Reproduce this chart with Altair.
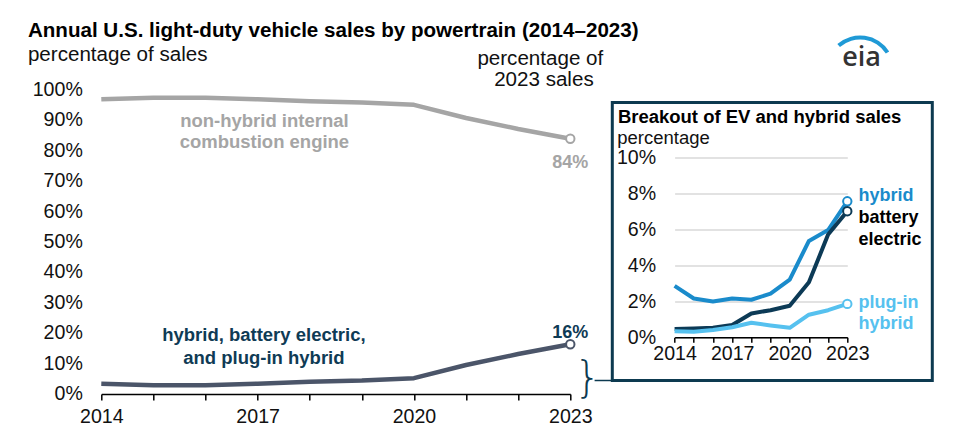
import altair as alt
import pandas as pd

FONT = "Liberation Sans"

# ---------------- data ----------------
years = [2014, 2015, 2016, 2017, 2018, 2019, 2020, 2021, 2022, 2023]

# main panel: percentage of sales
main_series = ["non-hybrid internal combustion engine",
               "hybrid, battery electric, and plug-in hybrid"]
ice_share = [96.6, 97.1, 97.1, 96.6, 96.0, 95.6, 94.8, 90.5, 86.9, 83.7]
ev_share = [3.4, 2.9, 2.9, 3.4, 4.0, 4.4, 5.2, 9.5, 13.1, 16.3]

# inset: breakout of EV and hybrid sales (percentage)
inset_series = ["hybrid", "battery electric", "plug-in hybrid"]
hybrid = [2.85, 2.15, 1.98, 2.15, 2.08, 2.42, 3.2, 5.35, 5.95, 7.55]
battery_electric = [0.45, 0.48, 0.52, 0.68, 1.32, 1.5, 1.75, 3.05, 5.7, 7.0]
plug_in_hybrid = [0.33, 0.3, 0.4, 0.55, 0.8, 0.65, 0.52, 1.25, 1.5, 1.85]

main_y_ticks = [0, 10, 20, 30, 40, 50, 60, 70, 80, 90, 100]
inset_y_ticks = [0, 2, 4, 6, 8, 10]
year_labels = [2014, 2017, 2020, 2023]

# ---------------- styles ----------------
ICE_C = "#a5a5a5"
EV_LINE = "#4b5569"
EV_TEXT = "#0f3b55"
BOX_C = "#0d3a50"
HYB_C = "#1a8bcb"
BEV_C = "#0c3a56"
PHEV_C = "#56c1ef"
GRID_C = "#d9d9d9"

main_df = pd.DataFrame({
    "year": years * 2,
    "series": [main_series[0]] * len(years) + [main_series[1]] * len(years),
    "value": ice_share + ev_share,
})
inset_df = pd.DataFrame({
    "year": years * 3,
    "series": sum([[s] * len(years) for s in inset_series], []),
    "value": hybrid + battery_electric + plug_in_hybrid,
})

label_expr = ("indexof([" + ",".join(str(v) for v in year_labels) +
              "], datum.value) >= 0 ? '' + datum.value : ''")


def note(text, x, y, size, color, weight="bold", align="center", font=FONT):
    return alt.Chart(alt.Data(values=[{}])).mark_text(
        text=text, fontSize=size, font=font, fontWeight=weight, color=color,
        align=align, baseline="middle"
    ).encode(x=alt.value(x), y=alt.value(y))


# ---------------- main panel ----------------
MX, MY = 100.7, 88.5  # absolute origin of the main plot area

x_main = alt.X("year:Q",
               scale=alt.Scale(domain=[2014, 2023], nice=False, zero=False),
               axis=alt.Axis(values=years, labelExpr=label_expr, title=None, grid=False,
                             domainColor="#000000", domainWidth=1.5,
                             tickColor="#000000", tickWidth=1.5, tickSize=6,
                             labelFontSize=19.6, labelColor="#111111", labelPadding=8,
                             labelFlush=False, labelOverlap=False))
y_main = alt.Y("value:Q",
               scale=alt.Scale(domain=[0, 100], nice=False, zero=False),
               axis=alt.Axis(values=main_y_ticks, labelExpr="datum.value + '%'", title=None,
                             grid=False, domain=False, ticks=False, tickSize=0,
                             labelPadding=19, labelFontSize=19.6, labelColor="#111111"))
main_scale = alt.Scale(domain=main_series, range=[ICE_C, EV_LINE])

main_base = alt.Chart(main_df)
main_lines = main_base.mark_line(strokeWidth=4.5, strokeJoin="round").encode(
    x=x_main, y=y_main, color=alt.Color("series:N", scale=main_scale, legend=None))
main_points = main_base.mark_point(shape="circle", fill="white", fillOpacity=1, opacity=1,
                                   size=70, strokeWidth=2).encode(
    x=x_main, y=y_main, stroke=alt.Stroke("series:N", scale=main_scale, legend=None)
).transform_filter("datum.year == 2023")
ice_end = main_base.mark_text(fontSize=18, fontWeight="bold", color=ICE_C, dy=24).encode(
    x=x_main, y=y_main, text="lab:N"
).transform_filter(alt.datum.series == main_series[0]).transform_filter(
    "datum.year == 2023").transform_calculate(lab="format(datum.value, '.0f') + '%'")
ev_end = main_base.mark_text(fontSize=18, fontWeight="bold", color=EV_TEXT, dy=-11.6).encode(
    x=x_main, y=y_main, text="lab:N"
).transform_filter(alt.datum.series == main_series[1]).transform_filter(
    "datum.year == 2023").transform_calculate(lab="format(datum.value, '.0f') + '%'")

main_notes = [
    note("Annual U.S. light-duty vehicle sales by powertrain (2014\u20132023)",
         27.3 - MX, 30 - MY, 20.6, "#000000", align="left"),
    note("percentage of sales", 27.3 - MX, 54.5 - MY, 20.6, "#111111", weight="normal", align="left"),
    note("percentage of", 539.7 - MX, 58 - MY, 20.6, "#111111", weight="normal"),
    note("2023 sales", 543.3 - MX, 79 - MY, 20.6, "#111111", weight="normal"),
    note("non-hybrid internal", 263.8 - MX, 120 - MY, 18.5, ICE_C),
    note("combustion engine", 263.8 - MX, 141.7 - MY, 18.5, ICE_C),
    note("hybrid, battery electric,", 263.3 - MX, 335 - MY, 18.5, EV_TEXT),
    note("and plug-in hybrid", 263.3 - MX, 358 - MY, 18.5, EV_TEXT),
    note("}", 587 - MX, 378.4 - MY, 42, BOX_C, weight=200,
         font="DejaVu Sans ExtraLight, DejaVu Sans"),
]
connector = alt.Chart(alt.Data(values=[{}])).mark_rule(color=BOX_C, strokeWidth=1.5).encode(
    x=alt.value(594 - MX), x2=alt.value(611 - MX), y=alt.value(380 - MY))

main = alt.layer(main_lines, main_points, ice_end, ev_end, *main_notes, connector).properties(
    width=469, height=305)

# ---------------- inset panel ----------------
IX, IY = 611.7, 102.0  # absolute origin of the inset box

x_in = alt.X("year:Q",
             scale=alt.Scale(domain=[2014, 2023], range=[674 - IX, 846.7 - IX], nice=False, zero=False),
             axis=alt.Axis(values=years, labelExpr=label_expr, title=None, grid=False,
                           offset=-(278 - (336.7 - IY)),
                           domainColor="#000000", domainWidth=1.5,
                           tickColor="#000000", tickWidth=1.5, tickSize=5,
                           labelFontSize=19.6, labelColor="#111111", labelPadding=2,
                           labelFlush=False, labelOverlap=False))
y_in = alt.Y("value:Q",
             scale=alt.Scale(domain=[0, 10], range=[336.7 - IY, 156.7 - IY], nice=False, zero=False),
             axis=alt.Axis(values=inset_y_ticks, labelExpr="datum.value + '%'", title=None,
                           offset=-(674 - IX), domain=False, ticks=False, tickSize=0,
                           grid=True, gridColor=GRID_C, gridWidth=1.5,
                           labelPadding=19, labelFontSize=19.6, labelColor="#111111"))
inset_scale = alt.Scale(domain=inset_series, range=[HYB_C, BEV_C, PHEV_C])

inset_base = alt.Chart(inset_df)
inset_lines = inset_base.mark_line(strokeWidth=4, strokeJoin="round").encode(
    x=x_in, y=y_in, color=alt.Color("series:N", scale=inset_scale, legend=None))
inset_points = inset_base.mark_point(shape="circle", fill="white", fillOpacity=1, opacity=1,
                                     size=70, strokeWidth=2).encode(
    x=x_in, y=y_in, stroke=alt.Stroke("series:N", scale=inset_scale, legend=None)
).transform_filter("datum.year == 2023")

inset_notes = [
    note("Breakout of EV and hybrid sales", 617.3 - IX, 116.2 - IY, 18.5, "#000000", align="left"),
    note("percentage", 616.7 - IX, 137 - IY, 18.5, "#111111", weight="normal", align="left"),
    note("hybrid", 858 - IX, 195.7 - IY, 18, HYB_C, align="left"),
    note("battery", 858 - IX, 218 - IY, 18, "#000000", align="left"),
    note("electric", 858 - IX, 239.7 - IY, 18, "#000000", align="left"),
    note("plug-in", 858 - IX, 302.7 - IY, 18, PHEV_C, align="left"),
    note("hybrid", 858 - IX, 324 - IY, 18, PHEV_C, align="left"),
    note("eia", 861 - IX, 57 - IY, 27, "#333333", weight=600, font="Open Sans"),
]
logo_arc = alt.Chart(alt.Data(values=[{}])).mark_arc(color="#1f9ad6").encode(
    x=alt.value(859.5 - IX), y=alt.value(69.5 - IY),
    theta=alt.value(5.562), theta2=alt.value(7.287),
    radius=alt.value(34.5), radius2=alt.value(30.5))

inset = alt.layer(inset_lines, inset_points, *inset_notes, logo_arc,
                  view=alt.ViewBackground(stroke=BOX_C, strokeWidth=3)).properties(
    width=320, height=278)

chart = alt.hconcat(main, inset, spacing=42, bounds="flush", center=True,
                    padding={"left": 19.3, "top": 12, "right": 5, "bottom": 5}
                    ).resolve_scale(color="independent", stroke="independent"
                    ).configure(font=FONT).configure_view(stroke="transparent")

chart.save("out.html", embed_options={"renderer": "svg", "actions": False})
